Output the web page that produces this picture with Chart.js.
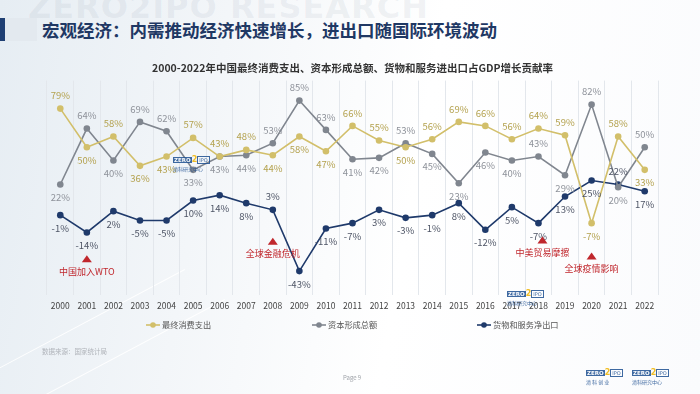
<!DOCTYPE html>
<html>
<head>
<meta charset="utf-8">
<script src="https://cdn.jsdelivr.net/npm/chart.js@4.4.0/dist/chart.umd.min.js"></script>
<style>
body { margin: 0; }
#slide {
    position: relative; width: 700px; height: 394px; overflow: hidden;
    background: linear-gradient(100deg, #e6edf3 0%, #f3f6f9 30%, #ffffff 58%, #fafbfd 100%);
    font-family: "Noto Sans CJK SC", sans-serif;
}
#slide canvas { position: absolute; left: 0; top: 0; }
.stripe { position: absolute; left: -60px; width: 260px; height: 1px; background: rgba(255,255,255,0.9); transform: rotate(-28deg); }
.wm { position: absolute; left: 28px; top: -12px; font: bold 32px "DejaVu Sans", sans-serif; color: rgba(120,135,155,0.10); letter-spacing: 1px; }
.bar { position: absolute; left: 0; top: 18px; width: 5px; height: 23px; background: #1f3f73; }
.band { position: absolute; left: 5px; top: 18px; width: 32px; height: 23px; background: #e3e9ef; }
.title { position: absolute; left: 42px; top: 17px; font-size: 17.5px; font-weight: bold; color: #1f3864; white-space: nowrap; }
.source { position: absolute; left: 42px; top: 346px; font-size: 6.5px; color: #b0b4ba; }
.page { position: absolute; left: 343px; top: 373px; font-size: 6px; color: #a0a4aa; }
.logo { position: absolute; font-family: "DejaVu Sans", sans-serif; line-height: 1; opacity: 0.85; }
.logo .zero { background: #1d4f91; color: #fff; font-size: 5.5px; font-weight: bold; padding: 0 1px; }
.logo .two { color: #f0b400; font-size: 8px; font-weight: bold; }
.logo .ipo { border: 1px solid #1d4f91; color: #1d4f91; font-size: 5px; padding: 0 1px; }
.logo .cn { font-family: "Noto Sans CJK SC"; font-size: 5px; color: #1d4f91; margin-top: 1px; }
</style>
</head>
<body>
<div id="slide">
    <div class="stripe" style="top:330px"></div>
    <div class="stripe" style="top:360px;left:-20px"></div>
    <div class="wm">ZERO2IPO RESEARCH</div>
    <div class="band"></div>
    <div class="bar"></div>
    <div class="title">宏观经济：内需推动经济快速增长，进出口随国际环境波动</div>
    <canvas id="myChart" width="700" height="394"></canvas>
    <div class="logo" style="left:173px;top:149px"><span class="zero">ZERO</span><span class="two">2</span><span class="ipo">IPO</span><div class="cn">清科研究中心</div></div>
    <div class="logo" style="left:507px;top:283px"><span class="zero">ZERO</span><span class="two">2</span><span class="ipo">IPO</span><div class="cn">清科研究中心</div></div>
    <div class="source">数据来源：国家统计局</div>
    <div class="page">Page 9</div>
    <div class="logo" style="left:586px;top:362px"><span class="zero">ZERO</span><span class="two">2</span><span class="ipo">IPO</span><div class="cn">清 科 创 业</div></div>
    <div class="logo" style="left:632px;top:362px"><span class="zero">ZERO</span><span class="two">2</span><span class="ipo">IPO</span><div class="cn">清科研究中心</div></div>
</div>
<script>
const years = ['2000', '2001', '2002', '2003', '2004', '2005', '2006', '2007', '2008', '2009', '2010',
    '2011', '2012', '2013', '2014', '2015', '2016', '2017', '2018', '2019', '2020', '2021', '2022'];
const seriesNames = ['最终消费支出', '资本形成总额', '货物和服务净出口'];
const consumption = [79, 50, 58, 36, 43, 57, 43, 48, 44, 58, 47, 66, 55, 50, 56, 69, 66, 56, 64, 59, -7, 58, 33];
const capital = [22, 64, 40, 69, 62, 33, 43, 44, 53, 85, 63, 41, 42, 53, 45, 23, 46, 40, 43, 29, 82, 20, 50];
const netExports = [-1, -14, 2, -5, -5, 10, 14, 8, 3, -43, -11, -7, 3, -3, -1, 8, -12, 5, -7, 13, 25, 22, 17];

// label above (a) or below (b) the point
const consumptionPos = ['a','b','a','b','b','a','a','a','b','b','b','a','a','b','a','a','a','a','a','a','b','a','b'];
const capitalPos = ['b','a','b','a','a','b','b','b','a','a','a','b','b','a','b','b','b','b','a','b','a','b','a'];
const exportsPos = ['b','b','b','b','b','b','b','b','a','b','b','b','b','b','b','b','b','b','b','b','b','a','b'];

// events marked with red triangles
const eventYears = ['2001', '2008', '2018', '2020'];
const eventTexts = ['中国加入WTO', '全球金融危机', '中美贸易摩擦', '全球疫情影响'];
const eventLevels = [-34, -21, -20, -32];

const gold = '#d2bf6a';
const grey = '#80868f';
const navy = '#1f3a6b';

const pointLabels = {
    id: 'pointLabels',
    afterDatasetsDraw(chart) {
        const ctx = chart.ctx;
        ctx.save();
        ctx.font = '9.5px "Noto Sans CJK SC"';
        ctx.textAlign = 'center';
        ctx.textBaseline = 'middle';
        chart.data.datasets.forEach((ds, i) => {
            chart.getDatasetMeta(i).data.forEach((pt, j) => {
                const dy = ds.labelPos[j] === 'a' ? -13 : 13;
                ctx.fillStyle = ds.labelColor;
                ctx.fillText(ds.data[j] + '%', pt.x, pt.y + dy);
            });
        });
        ctx.restore();
    }
};

const eventMarks = {
    id: 'eventMarks',
    afterDatasetsDraw(chart) {
        const ctx = chart.ctx;
        const x = chart.scales.x, y = chart.scales.y;
        ctx.save();
        ctx.font = '9px "Noto Sans CJK SC"';
        ctx.textAlign = 'center';
        ctx.textBaseline = 'middle';
        ctx.fillStyle = '#c0272d';
        eventYears.forEach((yr, i) => {
            const px = x.getPixelForValue(years.indexOf(yr)) + (yr === '2018' ? 4 : 0);
            const py = y.getPixelForValue(eventLevels[i]);
            ctx.beginPath();
            ctx.moveTo(px, py - 4);
            ctx.lineTo(px + 5, py + 3);
            ctx.lineTo(px - 5, py + 3);
            ctx.closePath();
            ctx.fill();
            ctx.fillText(eventTexts[i], px, py + 12);
        });
        ctx.restore();
    }
};

const legendRow = {
    id: 'legendRow',
    afterDraw(chart) {
        const ctx = chart.ctx;
        const xs = [146, 312, 477];
        const yy = 325;
        ctx.save();
        ctx.font = '8.2px "Noto Sans CJK SC"';
        ctx.textBaseline = 'middle';
        chart.data.datasets.forEach((ds, i) => {
            const x0 = xs[i];
            ctx.strokeStyle = ds.borderColor;
            ctx.lineWidth = 1.6;
            ctx.beginPath();
            ctx.moveTo(x0, yy);
            ctx.lineTo(x0 + 14, yy);
            ctx.stroke();
            ctx.fillStyle = ds.borderColor;
            ctx.beginPath();
            ctx.arc(x0 + 7, yy, 2.8, 0, Math.PI * 2);
            ctx.fill();
            ctx.fillStyle = '#555';
            ctx.fillText(ds.label, x0 + 16, yy);
        });
        ctx.restore();
    }
};

const ctx = document.getElementById('myChart').getContext('2d');
const myChart = new Chart(ctx, {
    type: 'line',
    data: {
        labels: years,
        datasets: [{
            label: seriesNames[0],
            data: consumption,
            borderColor: gold,
            backgroundColor: gold,
            labelColor: '#b4a24f',
            labelPos: consumptionPos
        }, {
            label: seriesNames[1],
            data: capital,
            borderColor: grey,
            backgroundColor: grey,
            labelColor: '#8e929a',
            labelPos: capitalPos
        }, {
            label: seriesNames[2],
            data: netExports,
            borderColor: navy,
            backgroundColor: navy,
            labelColor: '#4e5566',
            labelPos: exportsPos
        }]
    },
    options: {
        responsive: false,
        animation: false,
        devicePixelRatio: 1,
        layout: { padding: { top: 62, left: 47, right: 42, bottom: 77 } },
        elements: {
            line: { borderWidth: 1.6, tension: 0 },
            point: { radius: 3.3, borderWidth: 0, hoverRadius: 3.3 }
        },
        plugins: {
            legend: { display: false },
            tooltip: { enabled: false },
            title: {
                display: true,
                text: '2000-2022年中国最终消费支出、资本形成总额、货物和服务进出口占GDP增长贡献率',
                color: '#333',
                font: { family: '"Noto Sans CJK SC"', size: 10.5, weight: 'bold', lineHeight: 1.2 },
                padding: { top: 0, bottom: 6 }
            }
        },
        scales: {
            x: {
                offset: true,
                border: { display: false },
                grid: { offset: true, color: '#e3e7ec', lineWidth: 1, drawTicks: false },
                ticks: {
                    color: '#444',
                    padding: 5,
                    maxRotation: 0,
                    autoSkip: false,
                    font: { family: '"Noto Sans CJK SC"', size: 8.5, lineHeight: 1.4 }
                }
            },
            y: {
                display: false,
                min: -61,
                max: 100
            }
        }
    },
    plugins: [pointLabels, eventMarks, legendRow]
});
</script>
</body>
</html>
